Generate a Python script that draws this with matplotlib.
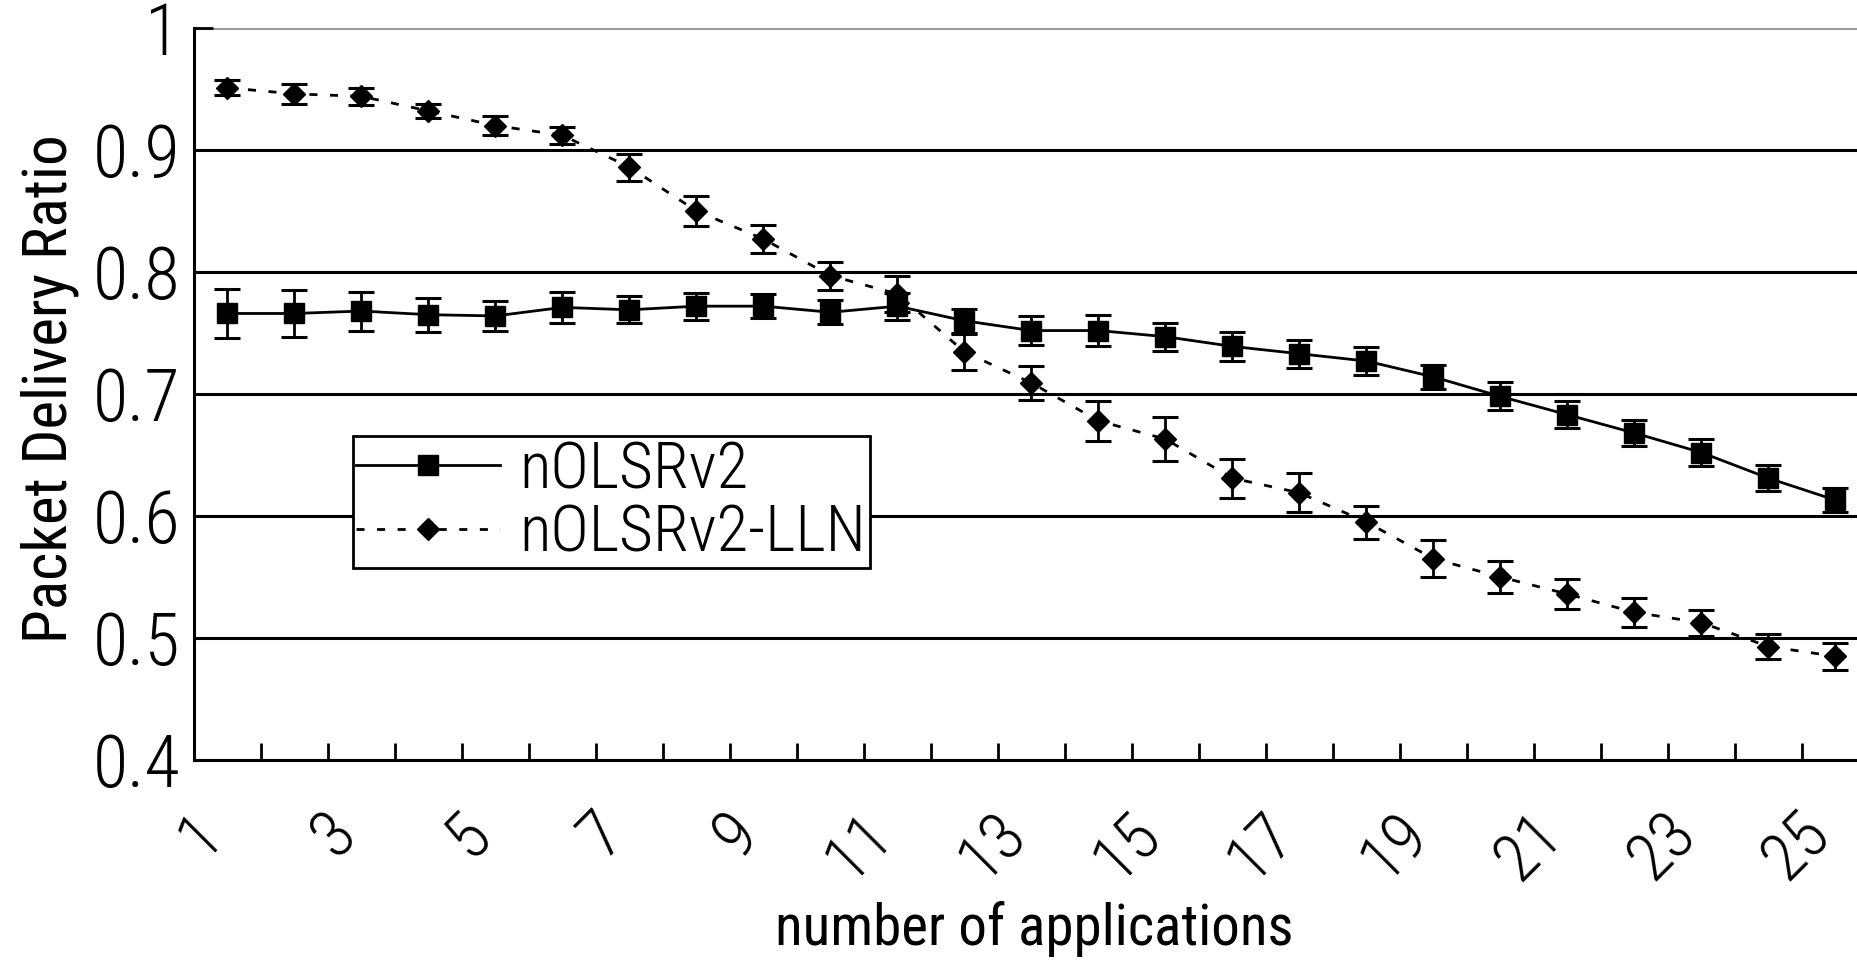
import matplotlib
matplotlib.use('Agg')
import matplotlib.pyplot as plt
import matplotlib.transforms as mtransforms
import matplotlib.font_manager as fm
from matplotlib.ticker import FixedLocator, FuncFormatter
import numpy as np

# number of applications (categories on the x axis)
apps = list(range(1, 26))

pdr_nolsr = [0.766, 0.766, 0.768, 0.765, 0.764, 0.771, 0.769, 0.772, 0.772, 0.767,
             0.772, 0.760, 0.752, 0.752, 0.747, 0.739, 0.733, 0.727, 0.714, 0.698,
             0.683, 0.668, 0.652, 0.631, 0.613]
err_nolsr = [0.020, 0.019, 0.016, 0.014, 0.0125, 0.0125, 0.011, 0.011, 0.010, 0.010,
             0.011, 0.010, 0.012, 0.013, 0.0115, 0.012, 0.0115, 0.0115, 0.010, 0.0115,
             0.011, 0.011, 0.011, 0.0104, 0.0097]

pdr_lln = [0.951, 0.946, 0.944, 0.932, 0.920, 0.912, 0.886, 0.850, 0.827, 0.797,
           0.782, 0.7345, 0.709, 0.678, 0.663, 0.631, 0.619, 0.595, 0.565, 0.550,
           0.536, 0.521, 0.5125, 0.493, 0.485]
err_lln = [0.006, 0.008, 0.007, 0.0055, 0.008, 0.007, 0.011, 0.0127, 0.0117, 0.0115,
           0.015, 0.015, 0.014, 0.0165, 0.018, 0.016, 0.016, 0.0135, 0.015, 0.0133,
           0.012, 0.012, 0.0105, 0.0104, 0.011]

yticks = [0.4, 0.5, 0.6, 0.7, 0.8, 0.9, 1.0]
labels = ['nOLSRv2', 'nOLSRv2-LLN']

# narrow, thin font like the original; take what is installed
avail = {}
for f in fm.fontManager.ttflist:
    avail.setdefault(f.name, set()).add(f.weight)
if 'Roboto Condensed' in avail:
    family = 'Roboto Condensed'
elif 'Liberation Sans Narrow' in avail:
    family = 'Liberation Sans Narrow'
else:
    family = 'DejaVu Sans'
weight = 'light' if (300 in avail.get(family, set()) or 'light' in avail.get(family, set())) else 'normal'
plt.rcParams['font.family'] = [family, 'DejaVu Sans']
plt.rcParams['font.weight'] = weight

fig = plt.figure(figsize=(18.58, 9.6), dpi=100)
ax = fig.add_axes([194/1858, 200/960, 1664/1858, 732/960])

x = np.array(apps)

ax.errorbar(x, pdr_nolsr, yerr=err_nolsr, fmt='none', ecolor='black',
            elinewidth=2, capsize=9.5, capthick=2.2, zorder=3)
ax.errorbar(x, pdr_lln, yerr=err_lln, fmt='none', ecolor='black',
            elinewidth=2, capsize=9.5, capthick=2.2, zorder=3)
ax.plot(x, pdr_nolsr, color='black', lw=2, marker='s', markersize=14.5,
        label=labels[0], zorder=4)
ax.plot(x, pdr_lln, color='black', lw=2, linestyle=(0, (2.9, 4.5)), marker='D',
        markersize=11.7, label=labels[1], zorder=4)

ax.set_xlim(0.5, 0.5 + 1664/67)
ax.set_ylim(0.4, 1.0)

# y axis
ax.set_yticks(yticks)
ax.yaxis.set_major_formatter(FuncFormatter(lambda v, p: f'{v:g}'))
ax.tick_params(axis='y', direction='in', length=14, width=2, pad=10, labelsize=52)
ax.grid(axis='y', color='black', lw=2.2, zorder=1)
ax.get_ygridlines()[-1].set_color('#999999')

# x axis: labels on odd categories, tick marks between categories
ax.xaxis.set_major_locator(FixedLocator(apps[::2]))
ax.xaxis.set_minor_locator(FixedLocator(np.array(apps) + 0.5))
ax.tick_params(axis='x', which='major', length=0, pad=30, labelsize=48)
ax.tick_params(axis='x', which='minor', direction='in', length=12.5, width=2)
for lab in ax.get_xticklabels():
    lab.set_rotation(45)
    lab.set_ha('right')
    lab.set_va('top')
    lab.set_rotation_mode('anchor')
    lab.set_transform(lab.get_transform() +
                      mtransforms.ScaledTranslation(-27/72, 0, fig.dpi_scale_trans))

for s in ['top', 'right']:
    ax.spines[s].set_visible(False)
for s in ['left', 'bottom']:
    ax.spines[s].set_linewidth(2.2)
    ax.spines[s].set_zorder(5)

ax.set_ylabel('Packet Delivery Ratio', fontsize=44)
ax.yaxis.set_label_coords(-0.069, 0.508)
ax.set_xlabel('number of applications', fontsize=41)
ax.xaxis.set_label_coords(0.505, -0.192)

leg = ax.legend(loc='upper left', bbox_to_anchor=(0.0956, 0.4426), borderaxespad=0,
                fontsize=47, frameon=True, fancybox=False, framealpha=1,
                edgecolor='black', handlelength=2.2, handletextpad=0.3,
                borderpad=0.05, labelspacing=0.02)
leg.get_frame().set_linewidth(2)
leg.set_zorder(6)

fig.savefig('out.png', dpi=100)
